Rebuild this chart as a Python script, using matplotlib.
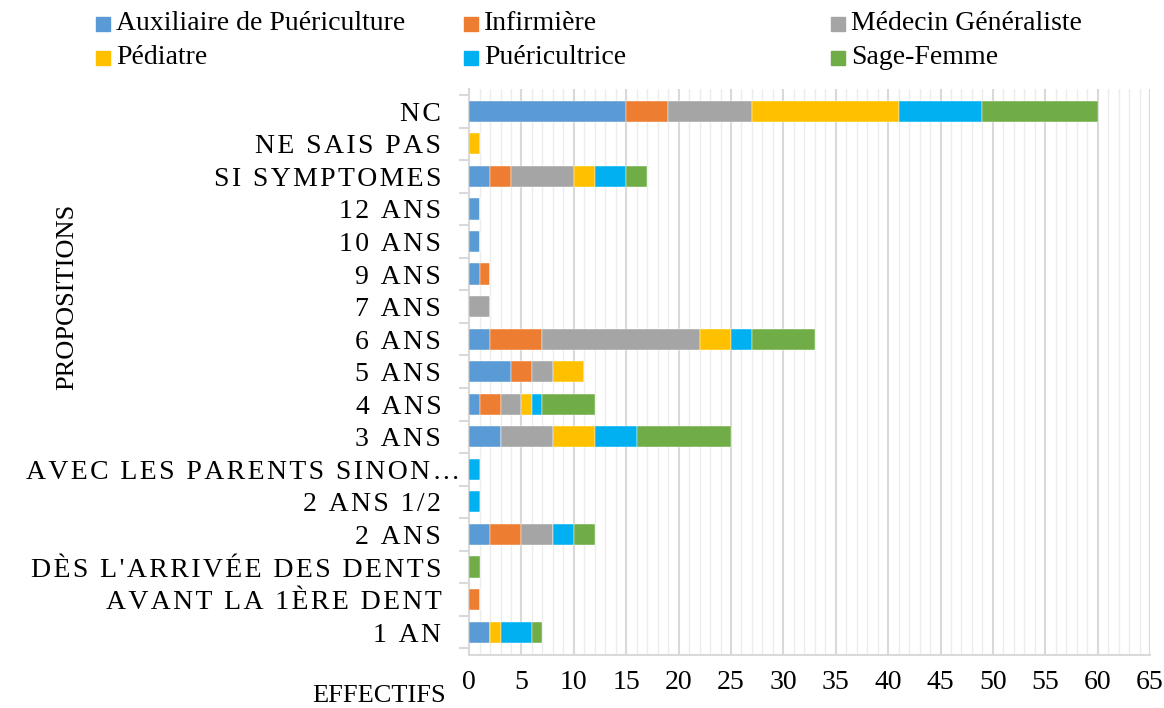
import numpy as np
import matplotlib
matplotlib.use("Agg")
import matplotlib.pyplot as plt
from matplotlib.patches import Rectangle
from matplotlib.transforms import ScaledTranslation

# categories, bottom to top as drawn
categories = ["1 AN", "AVANT LA 1ÈRE DENT", "DÈS L'ARRIVÉE DES DENTS", "2 ANS",
              "2 ANS 1/2", "AVEC LES PARENTS SINON…", "3 ANS", "4 ANS", "5 ANS",
              "6 ANS", "7 ANS", "9 ANS", "10 ANS", "12 ANS", "SI SYMPTOMES",
              "NE SAIS PAS", "NC"]

series_names = ["Auxiliaire de Puériculture", "Infirmière", "Médecin Généraliste",
                "Pédiatre", "Puéricultrice", "Sage-Femme"]
colors = ["#5b9bd5", "#ed7d31", "#a5a5a5", "#ffc000", "#00b0f0", "#70ad47"]

auxiliaire = [2, 0, 0, 2, 0, 0, 3, 1, 4, 2, 0, 1, 1, 1, 2, 0, 15]
infirmiere = [0, 1, 0, 3, 0, 0, 0, 2, 2, 5, 0, 1, 0, 0, 2, 0, 4]
medecin = [0, 0, 0, 3, 0, 0, 5, 2, 2, 15, 2, 0, 0, 0, 6, 0, 8]
pediatre = [1, 0, 0, 0, 0, 0, 4, 1, 3, 3, 0, 0, 0, 0, 2, 1, 14]
puericultrice = [3, 0, 0, 2, 1, 1, 4, 1, 0, 2, 0, 0, 0, 0, 3, 0, 8]
sage_femme = [1, 0, 1, 2, 0, 0, 9, 5, 0, 6, 0, 0, 0, 0, 2, 0, 11]

series = [auxiliaire, infirmiere, medecin, pediatre, puericultrice, sage_femme]

serif = ["Liberation Serif", "DejaVu Serif"]
plt.rcParams["font.family"] = serif

W, H = 1164, 708


def spaced(s):
    # imitate the wide letter spacing of the category labels
    return "\u200a".join(s)


fig = plt.figure(figsize=(W / 100, H / 100), dpi=100)
ax = fig.add_axes([0.403, 0.075, 0.585, 0.80])

y = np.arange(len(categories))
left = np.zeros(len(categories))
for name, vals, col in zip(series_names, series, colors):
    vals = np.array(vals, dtype=float)
    ax.barh(y, vals, left=left, height=0.65, color=col, label=name,
            edgecolor="white", linewidth=0.3, zorder=3)
    left += vals

ax.set_xlim(0, 65)
ax.set_ylim(-0.7, len(categories) - 0.3)
ax.set_xticks(np.arange(0, 66, 5))
ax.set_xticks(np.arange(0, 66, 1), minor=True)
ax.grid(axis="x", which="major", color="#d9d9d9", linewidth=1.5, zorder=0)
ax.grid(axis="x", which="minor", color="#ececec", linewidth=1.0, zorder=0)
ax.tick_params(axis="x", which="both", length=0, labelsize=20, pad=11)

ax.set_yticks(y)
ax.set_yticklabels([spaced(c) for c in categories], fontsize=20)
ax.set_yticks(np.arange(-0.5, len(categories), 1), minor=True)
ax.tick_params(axis="y", which="major", length=0, pad=20)
ax.tick_params(axis="y", which="minor", length=7, width=1.5, color="#d9d9d9")

# the truncated label spills over the axis like in the original
for lab in ax.get_yticklabels():
    if lab.get_text().startswith("A\u200aV\u200aE\u200aC"):
        lab.set_transform(lab.get_transform()
                          + ScaledTranslation(0.19, 0, fig.dpi_scale_trans))

for side in ["top", "right"]:
    ax.spines[side].set_visible(False)
ax.spines["left"].set_color("#d9d9d9")
ax.spines["bottom"].set_color("#d9d9d9")
ax.spines["left"].set_linewidth(1.5)
ax.spines["bottom"].set_linewidth(1.5)

fig.text(0.058, 0.58, "PROPOSITIONS", rotation=90, ha="center", va="center",
         fontsize=19)
fig.text(0.383, 0.017, "EFFECTIFS", ha="right", va="center", fontsize=19)

# legend: two rows, three columns of fixed width
col_x = [96, 464, 831]
row_y = [24, 58]
order = [0, 3, 1, 4, 2, 5]
for k, idx in enumerate(order):
    cx = col_x[k // 2]
    cy = row_y[k % 2]
    fig.add_artist(Rectangle((cx / W, 1 - (cy + 7) / H), 14 / W, 14 / H,
                             transform=fig.transFigure, color=colors[idx]))
    fig.text((cx + 20) / W, 1 - cy / H, series_names[idx], ha="left",
             va="center", fontsize=20)

fig.savefig("out.png", dpi=100)
